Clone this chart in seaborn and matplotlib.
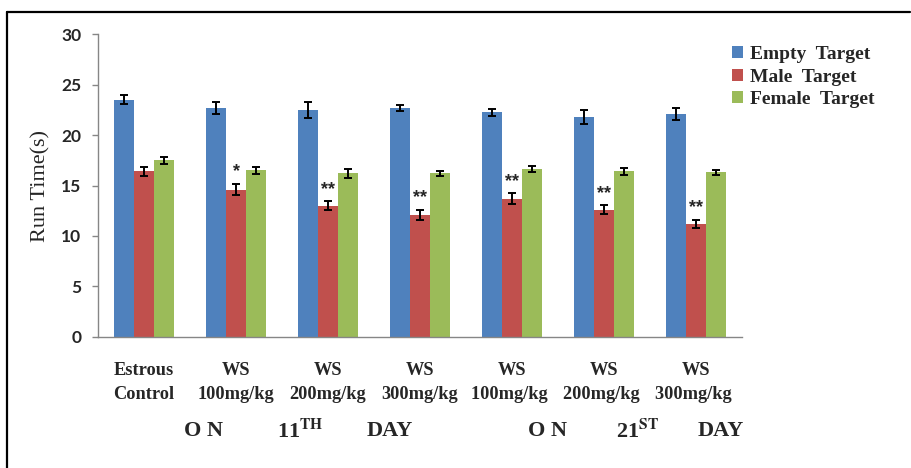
import numpy as np
import pandas as pd
import seaborn as sns
import matplotlib
matplotlib.use("Agg")
import matplotlib.pyplot as plt
from matplotlib.lines import Line2D

# ---- data ----
groups = ["Estrous\nControl", "WS\n100mg/kg", "WS\n200mg/kg", "WS\n300mg/kg",
          "WS\n100mg/kg ", "WS\n200mg/kg ", "WS\n300mg/kg "]
series = ["Empty  Target", "Male  Target", "Female  Target"]
empty_vals = [23.5, 22.7, 22.5, 22.7, 22.3, 21.85, 22.1]
male_vals = [16.4, 14.6, 13.0, 12.1, 13.7, 12.6, 11.2]
female_vals = [17.5, 16.5, 16.2, 16.2, 16.65, 16.4, 16.3]
empty_err = [0.45, 0.55, 0.75, 0.3, 0.35, 0.7, 0.6]
male_err = [0.4, 0.55, 0.45, 0.5, 0.55, 0.45, 0.4]
female_err = [0.35, 0.35, 0.4, 0.25, 0.3, 0.3, 0.2]
male_sig = ["", "*", "**", "**", "**", "**", "**"]
day_labels = [("O N", r"11$^{\mathbf{TH}}$", "DAY"), ("O N", r"21$^{\mathbf{ST}}$", "DAY")]
yticks = [0, 5, 10, 15, 20, 25, 30]
colors = ["#4F81BD", "#C0504D", "#9BBB59"]

rows = []
for s, vals in zip(series, [empty_vals, male_vals, female_vals]):
    for g, v in zip(groups, vals):
        rows.append({"group": g, "series": s, "value": v})
df = pd.DataFrame(rows)

sns.set_style("white")
plt.rcParams["mathtext.fontset"] = "stix"

fig = plt.figure(figsize=(9.11, 4.68), dpi=100)
ax = fig.add_axes([0.1076, 0.2806, 0.7069, 0.6457])

sns.barplot(data=df, x="group", y="value", hue="series", order=groups,
            hue_order=series, palette=colors, width=0.66, errorbar=None,
            saturation=1, ax=ax, legend=True, linewidth=0)

# error bars from bar patches
errs = [empty_err, male_err, female_err]
vals_all = [empty_vals, male_vals, female_vals]
bar_conts = list(ax.containers)
for si, cont in enumerate(bar_conts):
    xs = [p.get_x() + p.get_width() / 2 for p in cont.patches]
    ax.errorbar(xs, vals_all[si], yerr=errs[si], fmt="none", ecolor="black",
                elinewidth=1.4, capsize=3.2, capthick=1.4, zorder=5)
    if si == 1:
        for x, v, e, lab in zip(xs, male_vals, male_err, male_sig):
            if lab:
                ax.text(x, v + e + 0.35, lab, ha="center", va="bottom",
                        fontsize=13, fontweight="bold", family="Liberation Sans")

ax.set_ylim(0, 30)
ax.set_xlim(-0.5, len(groups) - 0.5)
ax.set_yticks(yticks)
ax.set_yticklabels([str(t) for t in yticks], fontsize=12.5, fontweight="bold",
                   family="Lato")
ax.set_xticks(range(len(groups)))
ax.set_xticklabels(groups, family="Liberation Serif", fontweight="bold",
                   fontsize=13.2, linespacing=1.6)
ax.set_xticks(np.arange(-0.5, len(groups), 1), minor=True)
ax.tick_params(axis="x", which="major", length=0, pad=18)
ax.tick_params(axis="x", which="minor", length=5, color="#868686", width=1)
ax.tick_params(axis="y", which="major", length=4, color="#868686", width=1,
               left=True, pad=8)
for sp in ["top", "right"]:
    ax.spines[sp].set_visible(False)
for sp in ["left", "bottom"]:
    ax.spines[sp].set_color("#868686")
    ax.spines[sp].set_linewidth(1)
ax.set_xlabel("")
ax.set_ylabel("Run Time(s)", family="Liberation Serif", fontsize=16, labelpad=8)

# legend
handles, labels = ax.get_legend_handles_labels()
ax.legend(handles, labels, loc="upper left", bbox_to_anchor=(0.795, 0.918),
          bbox_transform=fig.transFigure, frameon=False,
          prop={"family": "Liberation Serif", "weight": "bold", "size": 14},
          handlelength=0.55, handleheight=0.55, handletextpad=0.35,
          labelspacing=0.28, borderaxespad=0)

# day labels under the groups
for (a, b, c), xpos in zip(day_labels, [(203, 300, 390), (548, 638, 721)]):
    for txt, xp in zip((a, b, c), xpos):
        fig.text(xp / 911, 1 - 431 / 468, txt, ha="center", va="center",
                 family="Liberation Serif", fontweight="bold", fontsize=16)

# outer frame (top and left)
fig.add_artist(Line2D([7 / 911, 910 / 911], [1 - 12 / 468, 1 - 12 / 468],
                      transform=fig.transFigure, color="black", lw=1.6))
fig.add_artist(Line2D([7 / 911, 7 / 911], [0, 1 - 12 / 468],
                      transform=fig.transFigure, color="black", lw=1.6))

fig.savefig("out.png", dpi=100)
